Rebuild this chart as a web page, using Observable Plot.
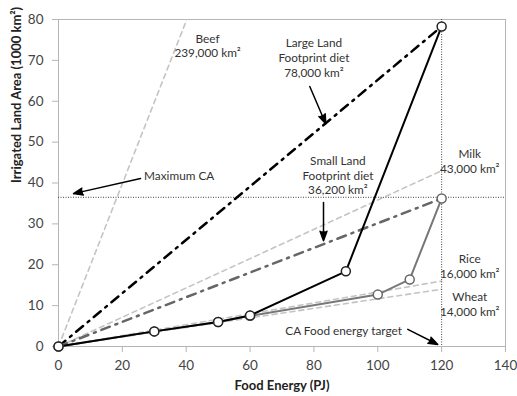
<!DOCTYPE html>
<html>
<head>
<meta charset="utf-8">
<script src="https://cdn.jsdelivr.net/npm/d3@7"></script>
<script src="https://cdn.jsdelivr.net/npm/@observablehq/plot@0.6"></script>
<style>
  html, body { margin: 0; padding: 0; background: #fff; }
  #chart { width: 517px; height: 396px; }
</style>
</head>
<body>
<div id="chart"></div>
<script>
// ---- data ----
const xTicks = [0, 20, 40, 60, 80, 100, 120, 140];
const yTicks = [0, 10, 20, 30, 40, 50, 60, 70, 80];

const largeEnergy = [0, 30, 50, 60, 90, 120];
const largeArea   = [0, 3.7, 6.0, 7.6, 18.4, 78.3];

const smallEnergy = [0, 30, 50, 60, 100, 110, 120];
const smallArea   = [0, 3.7, 6.0, 7.5, 12.7, 16.4, 36.2];

const crops       = ["Beef", "Milk", "Rice", "Wheat"];
const cropArea120 = [239, 43, 16, 14];

const diets      = ["Large", "Small"];
const dietTotals = [78.3, 36.2];

const targetEnergy = 120;
const maxCA = 36.5;

const labels = [
  {x: 46.7, y: 73.7, text: "Beef\n239,000 km²"},
  {x: 80.0, y: 70.7, text: "Large Land\nFootprint diet\n78,000 km²"},
  {x: 37.8, y: 41.8, text: "Maximum CA"},
  {x: 87.5, y: 42.0, text: "Small Land\nFootprint diet\n36,200 km²"},
  {x: 128.8, y: 45.5, text: "Milk\n43,000 km²"},
  {x: 128.8, y: 19.8, text: "Rice\n16,000 km²"},
  {x: 128.8, y: 10.4, text: "Wheat\n14,000 km²"},
  {x: 89.3, y: 3.9, text: "CA Food energy target"}
];

const arrows = [
  {x1: 25.7, y1: 41.1, x2: 4.7, y2: 37.4},
  {x1: 78.7, y1: 63.6, x2: 83.7, y2: 54.5},
  {x1: 83.0, y1: 35.2, x2: 83.0, y2: 25.9},
  {x1: 109.4, y1: 4.2, x2: 118.8, y2: 0.5}
];

// ---- tables built from arrays ----
const largePath = largeEnergy.map((x, i) => ({x, y: largeArea[i]}));
const smallPath = smallEnergy.map((x, i) => ({x, y: smallArea[i]}));
const cropLines = crops.flatMap((c, i) => [
  {crop: c, x: 0, y: 0},
  {crop: c, x: targetEnergy, y: cropArea120[i]}
]);
const dietLine = (i) => [{x: 0, y: 0}, {x: targetEnergy, y: dietTotals[i]}];

const chart = Plot.plot({
  width: 517,
  height: 396,
  marginLeft: 58,
  marginRight: 12,
  marginTop: 19,
  marginBottom: 50,
  style: {fontFamily: "Lato, 'Open Sans', sans-serif", fontSize: "11px", color: "#333", background: "#fff"},
  x: {domain: [0, 140]},
  y: {domain: [0, 80]},
  marks: [
    Plot.frame({stroke: "#b5b5b5"}),
    Plot.axisX({ticks: xTicks, tickSize: 6, tickPadding: 8, fontSize: 13.5, label: null, stroke: "#b5b5b5", fill: "#444"}),
    Plot.axisY({ticks: yTicks, tickSize: 6, tickPadding: 9, fontSize: 13.5, label: null, stroke: "#b5b5b5", fill: "#444"}),
    Plot.text(["Food Energy (PJ)"], {frameAnchor: "bottom", dy: 43, fontSize: 13, fontWeight: "bold", fill: "#222"}),
    Plot.text(["Irrigated Land Area (1000 km²)"], {frameAnchor: "left", dx: -42, rotate: -90, fontSize: 13, fontWeight: "bold", fill: "#222"}),
    // crop reference lines
    Plot.line(cropLines, {x: "x", y: "y", z: "crop", stroke: "#c4c4c4", strokeWidth: 1.6, strokeDasharray: "5,4", clip: true}),
    // reference dotted rules
    Plot.ruleY([maxCA], {stroke: "#444", strokeWidth: 1, strokeDasharray: "1,1.5"}),
    Plot.ruleX([targetEnergy], {stroke: "#444", strokeWidth: 1, strokeDasharray: "1,1.5"}),
    // diet totals dash-dot
    Plot.line(dietLine(0), {x: "x", y: "y", stroke: "#000", strokeWidth: 2.5, strokeDasharray: "9,6,2,6"}),
    Plot.line(dietLine(1), {x: "x", y: "y", stroke: "#666", strokeWidth: 2.5, strokeDasharray: "9,6,2,6"}),
    // diet paths
    Plot.line(smallPath, {x: "x", y: "y", stroke: "#777", strokeWidth: 2}),
    Plot.line(largePath, {x: "x", y: "y", stroke: "#000", strokeWidth: 2}),
    Plot.dot(smallPath, {x: "x", y: "y", r: 4.5, fill: "#fff", stroke: "#666", strokeWidth: 1.5}),
    Plot.dot(largePath, {x: "x", y: "y", r: 4.5, fill: "#fff", stroke: "#222", strokeWidth: 1.5}),
    // annotations
    Plot.arrow(arrows, {x1: "x1", y1: "y1", x2: "x2", y2: "y2", stroke: "#000", fill: "#000", strokeWidth: 1.5, headLength: 10, headAngle: 40}),
    Plot.text(labels, {x: "x", y: "y", text: "text", fontSize: 11.8, fill: "#333", lineHeight: 1.25})
  ]
});
document.getElementById("chart").appendChild(chart);
</script>
</body>
</html>
